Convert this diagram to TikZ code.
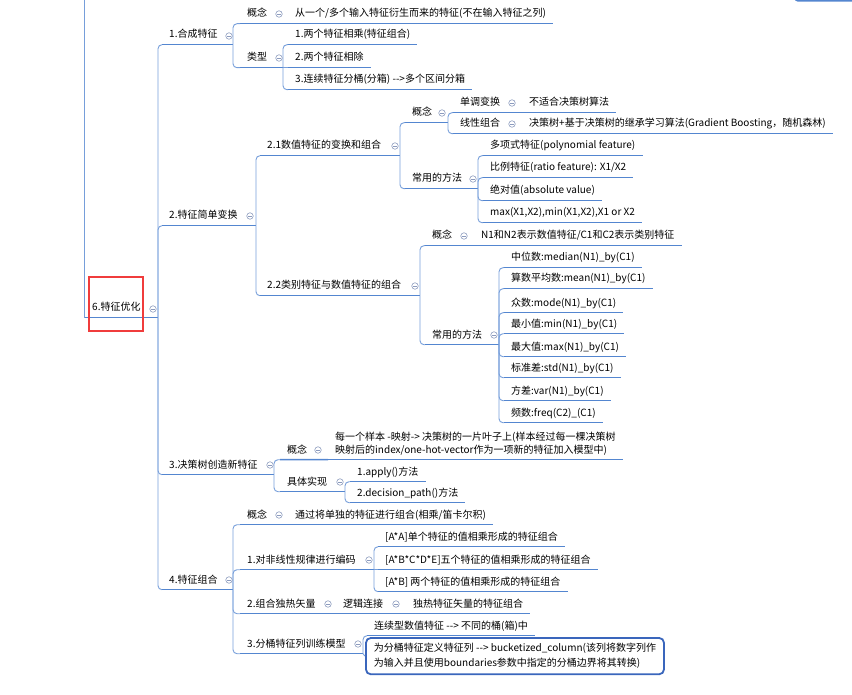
\documentclass[tikz,border=0pt]{standalone}
\usepackage{fontspec}
\newfontfamily\cjk{Noto Sans CJK SC}
\definecolor{ulc}{RGB}{84,134,208}
\definecolor{brc}{RGB}{118,158,218}
\definecolor{colc}{RGB}{140,155,190}
\definecolor{hlred}{RGB}{240,60,60}
\definecolor{boxc}{RGB}{58,102,188}
\begin{document}
\begin{tikzpicture}[x=1pt,y=-1pt,
 topic/.style={anchor=west,inner xsep=7pt,inner ysep=4.5pt,text height=8pt,text depth=2pt,font=\cjk\fontsize{10}{12}\selectfont},
 multitopic/.style={anchor=south west,align=left,inner xsep=7pt,inner ysep=4pt,font=\cjk\fontsize{10}{13}\selectfont},
 ul/.style={draw=ulc,line width=1.5pt},
 br/.style={draw=brc,line width=0.9pt,rounded corners=4pt},
 coll/.style={circle,draw=colc,line width=0.6pt,minimum size=6.5pt,inner sep=0pt,
   path picture={\draw[colc,line width=0.6pt] ([xshift=-1.7pt]path picture bounding box.center) -- ([xshift=1.7pt]path picture bounding box.center);}},
]
\useasboundingbox (0,0) rectangle (852,695);

% ---------------- nodes
\node[topic] (R) at (85,308) {6.特征优化};
\node[topic] (A1) at (162,35) {1.合成特征};
\node[topic] (A2) at (162,216) {2.特征简单变换};
\node[topic] (A3) at (162,465) {3.决策树创造新特征};
\node[topic] (A4) at (162,580) {4.特征组合};

\node[topic] (B11) at (240,14) {概念};
\node[topic] (L11) at (288,14) {从一个/多个输入特征衍生而来的特征(不在输入特征之列)};
\node[topic] (B12) at (240,58) {类型};
\node[topic] (L121) at (288,35) {1.两个特征相乘(特征组合)};
\node[topic] (L122) at (288,58) {2.两个特征相除};
\node[topic] (L123) at (288,80) {3.连续特征分桶(分箱) -->多个区间分箱};

\node[topic] (B21) at (260,146) {2.1数值特征的变换和组合};
\node[topic] (C1) at (405,113) {概念};
\node[topic] (D1) at (453,103) {单调变换};
\node[topic] (E1) at (522,103) {不适合决策树算法};
\node[topic] (D2) at (453,124) {线性组合};
\node[topic] (E2) at (522,124) {决策树+基于决策树的继承学习算法(Gradient Boosting，随机森林)};
\node[topic] (C2) at (405,179) {常用的方法};
\node[topic] (F1) at (483,146) {多项式特征(polynomial feature)};
\node[topic] (F2) at (483,168) {比例特征(ratio feature): X1/X2};
\node[topic] (F3) at (483,191) {绝对值(absolute value)};
\node[topic] (F4) at (483,213) {max(X1,X2),min(X1,X2),X1 or X2};

\node[topic] (B22) at (260,286) {2.2类别特征与数值特征的组合};
\node[topic] (G1) at (425,236) {概念};
\node[topic] (H1) at (474,236) {N1和N2表示数值特征/C1和C2表示类别特征};
\node[topic] (G2) at (425,335) {常用的方法};
\node[topic] (K1) at (504,258) {中位数:median(N1)\_by(C1)};
\node[topic] (K2) at (504,279) {算数平均数:mean(N1)\_by(C1)};
\node[topic] (K3) at (504,303) {众数:mode(N1)\_by(C1)};
\node[topic] (K4) at (504,324) {最小值:min(N1)\_by(C1)};
\node[topic] (K5) at (504,347) {最大值:max(N1)\_by(C1)};
\node[topic] (K6) at (504,368) {标准差:std(N1)\_by(C1)};
\node[topic] (K7) at (504,391) {方差:var(N1)\_by(C1)};
\node[topic] (K8) at (504,413) {频数:freq(C2)\_(C1)};

\node[topic] (B31) at (280,450) {概念};
\node[multitopic] (L31) at (328,459.5) {每一个样本 -映射-> 决策树的一片叶子上(样本经过每一棵决策树\\映射后的index/one-hot-vector作为一项新的特征加入模型中)};
\node[topic] (B32) at (280,482) {具体实现};
\node[topic] (M1) at (350,472) {1.apply()方法};
\node[topic] (M2) at (350,493) {2.decision\_path()方法};

\node[topic] (B41) at (240,515) {概念};
\node[topic] (L41) at (288,515) {通过将单独的特征进行组合(相乘/笛卡尔积)};
\node[topic] (B42) at (240,560) {1.对非线性规律进行编码};
\node[topic] (N1) at (378,537) {[A*A]单个特征的值相乘形成的特征组合};
\node[topic] (N2) at (378,560) {[A*B*C*D*E]五个特征的值相乘形成的特征组合};
\node[topic] (N3) at (378,582) {[A*B] 两个特征的值相乘形成的特征组合};
\node[topic] (B43) at (240,604) {2.组合独热矢量};
\node[topic] (B43b) at (336,604) {逻辑连接};
\node[topic] (L43) at (406,604) {独热特征矢量的特征组合};
\node[topic] (B44) at (240,644) {3.分桶特征列训练模型};
\node[topic] (P1) at (367,626) {连续型数值特征 --> 不同的桶(箱)中};

% ---------------- junctions
\coordinate (rtop) at (84,-3);
\coordinate (jR) at (R.south west -| 158,0);
\coordinate (jA1) at (A1.south west -| 233,0);
\coordinate (jB12) at (B12.south west -| 283,0);
\coordinate (jA2) at (A2.south west -| 256,0);
\coordinate (jB21) at (B21.south west -| 400,0);
\coordinate (jC1) at (C1.south west -| 448,0);
\coordinate (jC2) at (C2.south west -| 478,0);
\coordinate (jB22) at (B22.south west -| 420,0);
\coordinate (jG2) at (G2.south west -| 499,0);
\coordinate (jA3) at (A3.south west -| 274,0);
\coordinate (jB32) at (B32.south west -| 345,0);
\coordinate (jA4) at (A4.south west -| 233,0);
\coordinate (jB42) at (B42.south west -| 374,0);
\coordinate (jB44) at (B44.south west -| 363,0);
\coordinate (tr0) at (792,-3);
\coordinate (tr1) at (798,1);
\coordinate (tr2) at (856,1);

% ---------------- underlines of parents
\draw[ul] (R.south west) -- (jR);
\foreach \p in {A1,B12,A2,B21,C1,C2,B22,G2,A3,B32,A4,B42,B44}
  \draw[ul] (\p.south west) -- (j\p);
% chains
\draw[ul] (B11.south west) -- (L11.south west);
\draw[ul] (D1.south west) -- (E1.south west);
\draw[ul] (D2.south west) -- (E2.south west);
\draw[ul] (G1.south west) -- (H1.south west);
\draw[ul] (B31.south west) -- (L31.south west);
\draw[ul] (B41.south west) -- (L41.south west);
\draw[ul] (B43.south west) -- (B43b.south west);
\draw[ul] (B43b.south west) -- (L43.south west);
% leaves
\foreach \l in {L11,L121,L122,L123,E1,E2,F1,F2,F3,F4,H1,K1,K2,K3,K4,K5,K6,K7,K8,L31,M1,M2,L41,N1,N2,N3,L43,P1}
  \draw[ul] (\l.south west) -- (\l.south east);
% top right stub and root stem
\draw[ul] (tr0) to[out=70,in=180] (tr1) -- (tr2);
\draw[draw=brc,line width=0.9pt] (rtop) |- (R.south west);

% ---------------- branches
\foreach \c in {A1,A2,A3,A4} \draw[br] (jR) |- (\c.south west);
\draw[br] (jA1) |- (B11.south west);
\draw[br] (jA1) |- (B12.south west);
\draw[br] (jB12) |- (L121.south west);
\draw[br] (jB12) -- (L122.south west);
\draw[br] (jB12) |- (L123.south west);
\draw[br] (jA2) |- (B21.south west);
\draw[br] (jA2) |- (B22.south west);
\draw[br] (jB21) |- (C1.south west);
\draw[br] (jB21) |- (C2.south west);
\draw[br] (jC1) |- (D1.south west);
\draw[br] (jC1) |- (D2.south west);
\foreach \c in {F1,F2,F3,F4} \draw[br] (jC2) |- (\c.south west);
\draw[br] (jB22) |- (G1.south west);
\draw[br] (jB22) |- (G2.south west);
\foreach \c in {K1,K2,K3,K4,K5,K6,K7,K8} \draw[br] (jG2) |- (\c.south west);
\draw[br] (jA3) |- (B31.south west);
\draw[br] (jA3) |- (B32.south west);
\draw[br] (jB32) |- (M1.south west);
\draw[br] (jB32) |- (M2.south west);
\draw[br] (jA4) |- (B41.south west);
\draw[br] (jA4) |- (B42.south west);
\draw[br] (jA4) |- (B43.south west);
\draw[br] (jA4) |- (B44.south west);
\draw[br] (jB42) |- (N1.south west);
\draw[br] (jB42) -- (N2.south west);
\draw[br] (jB42) |- (N3.south west);
\draw[br] (jB44) |- (P1.south west);

% ---------------- selected box
\node[draw=boxc,line width=1.8pt,rounded corners=5pt,fill=white,anchor=north west,align=left,
      inner xsep=8pt,inner ysep=5.5pt,font=\cjk\fontsize{10}{15}\selectfont] (box) at (365,637)
  {为分桶特征定义特征列 --> bucketized\_column(该列将数字列作\\为输入并且使用boundaries参数中指定的分桶边界将其转换)};
\draw[br] (jB44) -- (box.west);

% ---------------- collapse circles
\node[coll] (cR) at (153,309) {};
\node[coll] (cA1) at (229,36) {};
\node[coll] (cA2) at (250,216) {};
\node[coll] (cA3) at (270,465) {};
\node[coll] (cA4) at (229,580) {};
\node[coll] (cB11) at (279,14) {};
\node[coll] (cB12) at (279,58) {};
\node[coll] (cB21) at (395,146) {};
\node[coll] (cC1) at (442,113) {};
\node[coll] (cD1) at (512,103) {};
\node[coll] (cD2) at (512,124) {};
\node[coll] (cC2) at (473,179) {};
\node[coll] (cB22) at (415,286) {};
\node[coll] (cG1) at (464,236) {};
\node[coll] (cG2) at (494,335) {};
\node[coll] (cB31) at (318,450) {};
\node[coll] (cB32) at (340,482) {};
\node[coll] (cB41) at (279,515) {};
\node[coll] (cB42) at (369,560) {};
\node[coll] (cB43) at (328,604) {};
\node[coll] (cB43b) at (396,604) {};
\node[coll] (cB44) at (358,644) {};

% ---------------- red highlight
\node[draw=hlred,line width=2.2pt,minimum width=54pt,minimum height=54pt,inner sep=0pt] (hl) at (116,304) {};
\end{tikzpicture}
\end{document}
